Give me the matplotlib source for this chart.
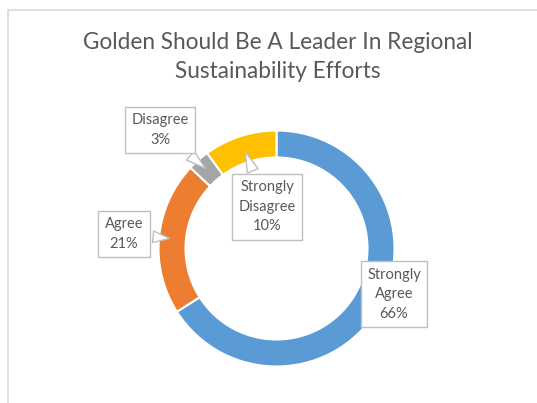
import numpy as np
import matplotlib
matplotlib.use('Agg')
import matplotlib.pyplot as plt
from matplotlib.patches import Rectangle

# data
labels = ['Strongly\nAgree', 'Agree', 'Disagree', 'Strongly\nDisagree']
values = [66, 21, 3, 10]
colors = ['#5B9BD5', '#ED7D31', '#A5A5A5', '#FFC000']
title = 'Golden Should Be A Leader In Regional\nSustainability Efforts'

plt.rcParams['font.family'] = ['Lato', 'DejaVu Sans']
txt_color = '#595959'

W, H = 537, 403
fig = plt.figure(figsize=(W / 100, H / 100), dpi=100)
ax = fig.add_axes([0, 0, 1, 1])

cx, cy = 276.5, H - 248.5
r_out, ring = 118, 27
wedges, _ = ax.pie(values, colors=colors, startangle=90, counterclock=False,
                   radius=r_out, center=(cx, cy),
                   wedgeprops=dict(width=ring, edgecolor='white', linewidth=1.5))
ax.set_xlim(0, W)
ax.set_ylim(0, H)
ax.set_aspect('equal')
ax.axis('off')

# chart area border (cut off at right and bottom)
ax.add_patch(Rectangle((8, -20), W + 20, H - 10 + 20, fill=False,
                       ec='#D9D9D9', lw=1.2, clip_on=False))

ax.text(cx + 1, H - 57, title, ha='center', va='center', fontsize=16.3,
        color=txt_color, linespacing=1.5)

# label box centres (pixels from top)
box_pos = [(394, 294), (124, 234), (160, 130), (267, 207)]
r_mid = r_out - ring / 2
for w, lab, v, (bx, by) in zip(wedges, labels, values, box_pos):
    ang = np.deg2rad((w.theta1 + w.theta2) / 2)
    tip = (cx + r_mid * np.cos(ang), cy + r_mid * np.sin(ang))
    s = f'{lab}\n{v}%'
    bbox = dict(boxstyle='square,pad=0.45', fc='white', ec='#BFBFBF', lw=1)
    if v == 66:
        ax.text(bx, H - by, s, ha='center', va='center', fontsize=10.5,
                color=txt_color, bbox=bbox, linespacing=1.5)
    else:
        ax.annotate(s, xy=tip, xytext=(bx, H - by), ha='center', va='center',
                    fontsize=10.5, color=txt_color, bbox=bbox, linespacing=1.5,
                    arrowprops=dict(arrowstyle='wedge,tail_width=0.8,shrink_factor=0.5',
                                    fc='white', ec='#BFBFBF', lw=1))

fig.savefig('out.png', dpi=100)
